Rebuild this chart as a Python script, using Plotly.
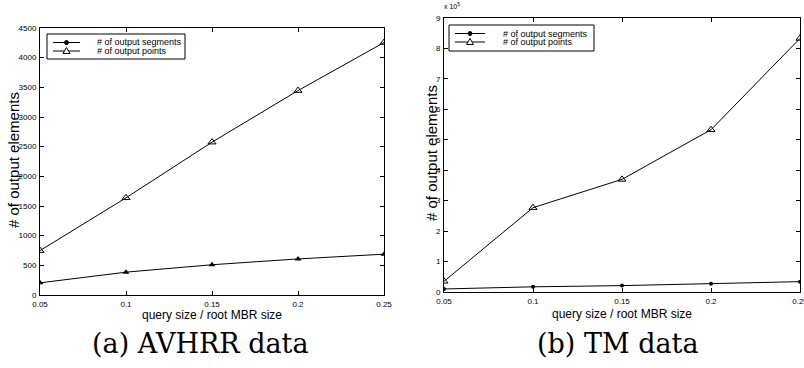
import plotly.graph_objects as go

# ---- data ----
query_sizes = [0.05, 0.1, 0.15, 0.2, 0.25]
x_tick_labels = ["0.05", "0.1", "0.15", "0.2", "0.25"]

avhrr_segments = [205, 385, 510, 608, 688]
avhrr_points = [748, 1638, 2576, 3445, 4255]

tm_segments = [0.10, 0.17, 0.21, 0.27, 0.34]   # x 10^5
tm_points = [0.35, 2.77, 3.70, 5.33, 8.33]     # x 10^5

avhrr_yticks = list(range(0, 4501, 500))
tm_yticks = list(range(0, 10))

series_names = ["# of output segments", "# of output points"]

W, H = 804, 368
FONT = "Liberation Sans, Arial, sans-serif"
SERIF = "DejaVu Serif, serif"


def px_x(a, b):
    return [a / W, b / W]


def px_y(top, bottom):
    return [1 - bottom / H, 1 - top / H]


fig = go.Figure()
line = dict(color="black", width=1)

# Left panel (AVHRR)
fig.add_trace(go.Scatter(x=query_sizes, y=avhrr_segments, mode="lines+markers", name=series_names[0],
                         line=line, marker=dict(symbol="triangle-up", size=6, color="black"),
                         showlegend=False, xaxis="x", yaxis="y"))
fig.add_trace(go.Scatter(x=query_sizes, y=avhrr_points, mode="lines+markers", name=series_names[1],
                         line=line, marker=dict(symbol="triangle-up-open", size=7, color="black"),
                         showlegend=False, xaxis="x", yaxis="y"))

# Right panel (TM)
fig.add_trace(go.Scatter(x=query_sizes, y=tm_segments, mode="lines+markers", name=series_names[0],
                         line=line, marker=dict(symbol="circle", size=4, color="black"),
                         showlegend=False, xaxis="x2", yaxis="y2"))
fig.add_trace(go.Scatter(x=query_sizes, y=tm_points, mode="lines+markers", name=series_names[1],
                         line=line, marker=dict(symbol="triangle-up-open", size=7, color="black"),
                         showlegend=False, xaxis="x2", yaxis="y2"))

axis_common = dict(showline=True, linecolor="black", linewidth=1, mirror="allticks",
                   ticks="inside", ticklen=4, tickcolor="black", showgrid=False, zeroline=False,
                   automargin=False, ticklabeloverflow="allow",
                   tickfont=dict(family=FONT, size=8, color="black"), ticklabelstandoff=1)

fig.update_layout(
    template="none",
    width=W, height=H, margin=dict(l=0, r=0, t=0, b=0, pad=0),
    paper_bgcolor="white", plot_bgcolor="white",
    font=dict(family=FONT, color="black"),
    showlegend=False,
    xaxis=dict(domain=px_x(40, 384), range=[0.05, 0.25], tickvals=query_sizes,
               ticktext=x_tick_labels, anchor="y", **axis_common),
    yaxis=dict(domain=px_y(28, 295), range=[0, 4500], tickvals=avhrr_yticks, anchor="x",
               **axis_common),
    xaxis2=dict(domain=px_x(444, 800), range=[0.05, 0.25], tickvals=query_sizes,
                ticktext=x_tick_labels, anchor="y2", **axis_common),
    yaxis2=dict(domain=px_y(18, 292), range=[0, 9], tickvals=tm_yticks, anchor="x2",
                **axis_common),
)

annotations = []
shapes = []


def ann(text, x, y, size, family=FONT, xanchor="center", yanchor="middle", angle=0):
    annotations.append(dict(text=text, x=x / W, y=1 - y / H, xref="paper", yref="paper",
                            xanchor=xanchor, yanchor=yanchor, showarrow=False, textangle=angle,
                            borderpad=0,
                            font=dict(family=family, size=size, color="black")))


# axis titles
ann("query size / root MBR size", 212, 315, 12)
ann("query size / root MBR size", 622, 314, 12)
ann("# of output elements", 14, 160, 15, angle=-90)
ann("# of output elements", 431, 153, 15, angle=-90)
ann("x 10<sup>5</sup>", 443, 6, 7, xanchor="left")

# captions
ann("(a) AVHRR data", 200, 343, 27, family=SERIF)
ann("(b) TM data", 618, 343, 27, family=SERIF)


# hand-drawn legend boxes (MATLAB style, compact rows)
def legend_box(x0, y0, x1, y1, rows, line_x0, line_x1, text_x):
    shapes.append(dict(type="rect", xref="paper", yref="paper",
                       x0=x0 / W, x1=x1 / W, y0=1 - y1 / H, y1=1 - y0 / H,
                       line=dict(color="black", width=1), fillcolor="white", layer="above"))
    mid = (line_x0 + line_x1) / 2
    for i, ry in enumerate(rows):
        shapes.append(dict(type="line", xref="paper", yref="paper",
                           x0=line_x0 / W, x1=line_x1 / W, y0=1 - ry / H, y1=1 - ry / H,
                           line=dict(color="black", width=1), layer="above"))
        if i == 0:
            shapes.append(dict(type="circle", xref="paper", yref="paper",
                               x0=(mid - 2) / W, x1=(mid + 2) / W,
                               y0=1 - (ry + 2) / H, y1=1 - (ry - 2) / H,
                               line=dict(color="black", width=1), fillcolor="black", layer="above"))
        else:
            path = "M {:.5f} {:.5f} L {:.5f} {:.5f} L {:.5f} {:.5f} Z".format(
                (mid - 3.5) / W, 1 - (ry + 2.5) / H,
                (mid + 3.5) / W, 1 - (ry + 2.5) / H,
                mid / W, 1 - (ry - 3.5) / H)
            shapes.append(dict(type="path", xref="paper", yref="paper", path=path,
                               line=dict(color="black", width=1), fillcolor="white", layer="above"))
        ann(series_names[i], text_x, ry, 9, xanchor="left")


legend_box(47, 34, 185, 59, [42.5, 51.0], 53, 80, 96)
legend_box(449, 25, 594, 51, [33.5, 42.0], 455, 485, 502)

fig.update_layout(annotations=annotations, shapes=shapes)

fig.write_html(
    "out.html",
    config={"displayModeBar": False},
    post_script="document.body.style.margin='0';document.documentElement.style.overflow='hidden';",
)
